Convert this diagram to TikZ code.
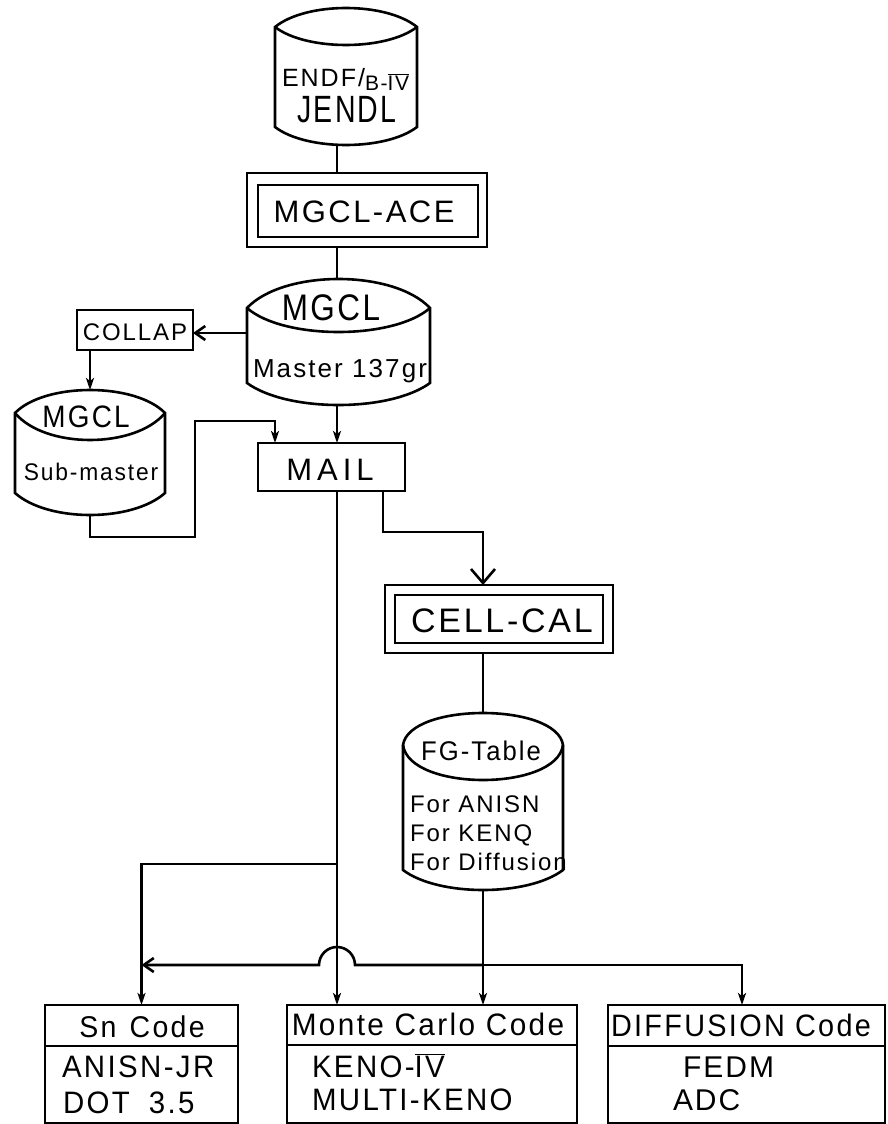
\documentclass[tikz,border=0pt]{standalone}
\usepackage{fontspec}
\usepackage{graphicx}
\setmainfont{Liberation Sans}[LetterSpace=8]
\usetikzlibrary{arrows.meta,calc}
\newcommand\fs[1]{\fontsize{#1}{#1}\selectfont}
\newcommand\hx[2]{\scalebox{#1}[1]{#2}}
\newcommand\rIV{$\overline{\mbox{IV}}$}
% cylinder: name, L, R, ytop, ycorner, ylens, ysidebottom, ybottom, control fraction
\newcommand\cylshape[9]{%
  \pgfmathsetmacro\cylcA{#2+#9*(#3-#2)}%
  \pgfmathsetmacro\cylcB{#3-#9*(#3-#2)}%
  \pgfmathsetmacro\cylbA{#2+0.22*(#3-#2)}%
  \pgfmathsetmacro\cylbB{#3-0.22*(#3-#2)}%
  \pgfmathsetmacro\cylyT{#5+(#4-#5)/0.75}%
  \pgfmathsetmacro\cylyL{#5+(#6-#5)/0.75}%
  \pgfmathsetmacro\cylyB{#7+(#8-#7)/0.75}%
  \pgfmathsetmacro\cylw{#3-#2}%
  \pgfmathsetmacro\cylh{#8-#4}%
  \draw[ln] (#2,#5) .. controls (\cylcA,\cylyT) and (\cylcB,\cylyT) .. (#3,#5) -- (#3,#7)
     .. controls (\cylbB,\cylyB) and (\cylbA,\cylyB) .. (#2,#7) -- cycle;
  \draw[ln] (#2,#5) .. controls (\cylcA,\cylyL) and (\cylcB,\cylyL) .. (#3,#5);
  \node[inner sep=0pt, outer sep=0pt, minimum width=\cylw pt, minimum height=\cylh pt, anchor=north west] (#1) at (#2,#4) {};
}
\tikzset{
  ln/.style={line width=2.6pt, line join=miter},
  arr/.style={ln, -{Stealth[length=12pt,width=8pt,inset=3pt]}},
  barb/.style={ln, -{Straight Barb[length=10pt,width=14pt]}},
  bigbarb/.style={ln, -{Straight Barb[length=14pt,width=24pt]}},
  lbl/.style={inner sep=0pt, outer sep=0pt, anchor=base},
  lblw/.style={inner sep=0pt, outer sep=0pt, anchor=base west},
  bx/.style={draw, ln, inner sep=0pt, outer sep=0pt, anchor=north west},
}
\begin{document}
\begin{tikzpicture}[x=1pt,y=-1pt]
\useasboundingbox (0,0) rectangle (887,1124);
\fill[white] (0,0) rectangle (887,1124);

% named coordinates for connector columns
\coordinate (spine) at (337,0);
\coordinate (mr) at (383,0);
\coordinate (cellturn) at (483,532);
\coordinate (loopA) at (195,537);
\coordinate (loopB) at (275,421);
\coordinate (jA) at (337,864);
\coordinate (hopy) at (0,965);
\coordinate (diffx) at (742,0);

% cylinders
\cylshape{endf}{275}{417}{8}{27}{45}{127}{145}{0.22}
\cylshape{master}{247}{430}{279}{308}{332}{383}{405}{0.2}
\cylshape{sub}{15}{165}{390}{413}{440}{493}{515}{0.2}
\cylshape{fg}{403}{563}{713}{745}{780}{870}{890}{0.04}

% boxes
\node[bx, minimum width=240pt, minimum height=74pt] (aceo) at (247,173) {};
\node[bx, minimum width=220pt, minimum height=52pt] (acei) at (258,185) {};
\node[bx, minimum width=116pt, minimum height=40pt] (collap) at (77,310) {};
\node[bx, minimum width=147pt, minimum height=48pt] (mail) at (258,443) {};
\node[bx, minimum width=228pt, minimum height=68pt] (cello) at (385,585) {};
\node[bx, minimum width=208pt, minimum height=48pt] (celli) at (395,595) {};

\node[bx, minimum width=193pt, minimum height=118pt] (sn) at (45,1005) {};
\node[bx, minimum width=290pt, minimum height=118pt] (monte) at (287,1005) {};
\node[bx, minimum width=277pt, minimum height=118pt] (diff) at (608,1005) {};
\draw[ln] (sn.west |- 0,1046) -- (sn.east |- 0,1046);
\draw[ln] (monte.west |- 0,1045) -- (monte.east |- 0,1045);
\draw[ln] (diff.west |- 0,1046) -- (diff.east |- 0,1046);

% texts
\node[lblw] (t1) at (282,86) {\fs{25}ENDF/\raisebox{-4pt}{\fs{21}B-\rIV}};
\node[lbl] (t2) at (347,122) {\fs{38}\hx{0.75}{JENDL}};
\node[lbl] (t3) at (364,222) {\fs{31}MGCL-ACE};
\node[lbl] (t4) at (331,320) {\fs{37}\hx{0.85}{MGCL}};
\node[lbl] (t5) at (340,377) {\fs{26}Master 137gr};
\node[lbl] (t6) at (135,340) {\fs{24}COLLAP};
\node[lbl] (t7) at (86,427) {\fs{31}\hx{0.9}{MGCL}};
\node[lbl] (t8) at (91,480) {\fs{24}\hx{0.95}{Sub-master}};
\node[lbl] (t9) at (330,480) {\fs{31}M\hspace{5pt}A\hspace{5pt}I\hspace{5pt}L};
\node[lbl] (t10) at (502,632) {\fs{34}CELL-CAL};
\node[lbl] (t11) at (481,760) {\fs{27}\hx{0.95}{FG-Table}};
\node[lblw] (t12) at (410,812) {\fs{24}For ANISN};
\node[lblw] (t13) at (410,841) {\fs{24}For KENQ};
\node[lblw] (t14) at (410,870) {\fs{24}For Diffusion};
\node[lbl] (t15) at (142,1037) {\fs{30}\hx{0.95}{Sn\hspace{14pt}Code}};
\node[lblw] (t16) at (62,1077) {\fs{31}\hx{0.95}{ANISN-JR}};
\node[lblw] (t17) at (63,1113) {\fs{31}\hx{0.95}{DOT\hspace{20pt}3.5}};
\node[lbl] (t18) at (428,1035) {\fs{31}\hx{0.96}{Monte Carlo Code}};
\node[lblw] (t19) at (312,1077) {\fs{31}\hx{0.95}{KENO-\rIV}};
\node[lblw] (t20) at (312,1110) {\fs{31}\hx{0.95}{MULTI-KENO}};
\node[lblw] (t21) at (611,1036) {\fs{31}\hx{0.93}{DIFFUSION Code}};
\node[lblw] (t22) at (683,1077) {\fs{30}F\hspace{2pt}E\hspace{2pt}D\hspace{2pt}M};
\node[lblw] (t23) at (673,1110) {\fs{30}A\hspace{2pt}D\hspace{2pt}C};

% connectors
\draw[ln] (endf.south -| spine) -- (aceo.north -| spine);
\draw[ln] (aceo.south -| spine) -- (master.north -| spine);
\draw[barb] ($(collap.east -| master.west)+(0,3)$) -- ($(collap.east)+(0,3)$);
\draw[arr] (collap.south -| sub.north) -- (sub.north);
\draw[arr] (master.south -| spine) -- (mail.north -| spine);
\draw[arr] (sub.south) |- (loopA) |- (loopB) -- (mail.north -| loopB);
\draw[bigbarb] (mail.south -| mr) |- (cellturn) -- (cello.north -| cellturn);
\draw[ln] (cello.south -| fg.north) -- (fg.north);
\draw[arr] (mail.south -| spine) -- (monte.north -| spine);
\draw[arr] (jA) -| (sn.north);
\draw[arr] (fg.south) -- (monte.north -| fg.south);
\coordinate (jB) at (fg.south |- hopy);
\coordinate (jC) at (sn.north |- hopy);
\draw[arr] (jB) -| (diff.north -| diffx);
\draw[barb] (jB) -- ($(spine |- hopy)+(18,0)$) arc[start angle=0, end angle=-180, radius=18] -- (jC);
\end{tikzpicture}
\end{document}
